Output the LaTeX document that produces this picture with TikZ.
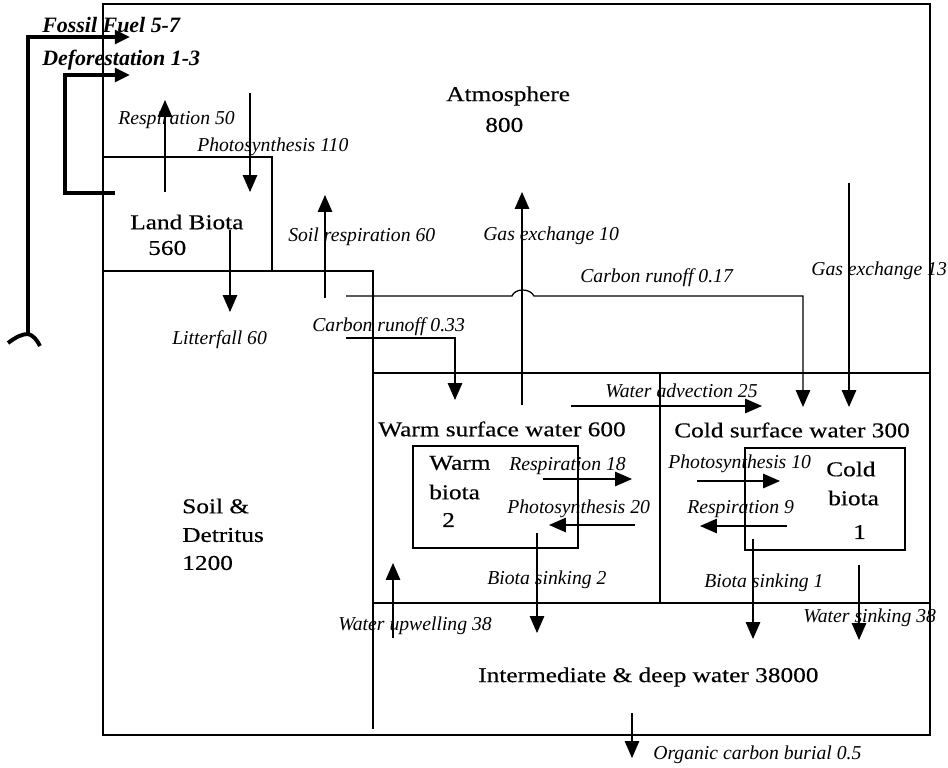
\documentclass[tikz,border=0pt]{standalone}
\usepackage{fontspec}
\setmainfont{Liberation Serif}
\newfontfamily\poolfont[FakeStretch=1.2,FakeBold=0.4]{Liberation Serif}
\usetikzlibrary{arrows.meta}
\tikzset{
  wall/.style={line width=1.1pt},
  flux/.style={-{Triangle[length=4.2mm,width=3.6mm]},line width=0.9pt},
  source/.style={-{Triangle[length=3.8mm,width=3.4mm]},line width=2.8pt},
  pool/.style={font=\poolfont\fontsize{15}{17}\selectfont,inner sep=0pt,anchor=west},
  flxlbl/.style={font=\itshape\fontsize{14}{16}\selectfont,inner sep=0pt,anchor=west},
  srclbl/.style={font=\bfseries\itshape\fontsize{15.6}{17}\selectfont,inner sep=0pt,anchor=west},
}

\begin{document}
\begin{tikzpicture}[x=0.025cm,y=-0.025cm]
  \useasboundingbox (0,0) rectangle (948,768);
  % compartments
  \draw[wall] (103,4) rectangle (930,735);
  \draw[wall] (103,157) -| (272,271);
  \draw[wall] (103,271) -- (373,271) -- (373,729);
  \draw[wall] (373,373) -- (930,373);
  \draw[wall] (373,603) -- (930,603);
  \draw[wall] (660,373) -- (660,603);
  \draw[wall] (413,446) rectangle (578,548);
  \draw[wall] (745,448) rectangle (905,550);
  % pool names
  \node[pool] (atm) at (446,96) {Atmosphere};
  \node[pool] (atmval) at (485,125) {800};
  \node[pool] (land) at (130,222) {Land Biota};
  \node[pool] (landval) at (148,248) {560};
  \node[pool] (soil) at (182,506) {Soil \&};
  \node[pool] (detr) at (182,535) {Detritus};
  \node[pool] (soilval) at (182,563) {1200};
  \node[pool] (warm) at (378,429) {Warm surface water 600};
  \node[pool] (cold) at (674,430) {Cold surface water 300};
  \node[pool] (wbio) at (429,463) {Warm};
  \node[pool] (wbio2) at (429,492) {biota};
  \node[pool] (wbioval) at (442,520) {2};
  \node[pool] (cbio) at (826,469) {Cold};
  \node[pool] (cbio2) at (828,498) {biota};
  \node[pool] (cbioval) at (853,532) {1};
  \node[pool] (deep) at (478,677) {Intermediate \& deep water 38000};
  % human sources
  \draw[source] (28,334) -- (28,37) -- (130,37);
  \draw[source] (115,193) -- (65,193) -- (65,75) -- (130,75);
  \draw[line width=2.8pt] (8,343) .. controls (16,337) and (22,334) .. (28,334)
    .. controls (33,335) and (37,340) .. (40,346);
  \node[srclbl] (fossil) at (42,25) {Fossil Fuel 5-7};
  \node[srclbl] (defor) at (42,60) {Deforestation 1-3};
  % land fluxes
  \draw[flux] (165,192) -- (165,100);
  \draw[flux] (250,93) -- (250,192);
  \draw[flux] (230,230) -- (230,312);
  \draw[flux] (325,298) -- (325,195);
  \node[flxlbl] (resp50) at (118,120) {Respiration 50};
  \node[flxlbl] (phot110) at (197,147) {Photosynthesis 110};
  \node[flxlbl] (litter) at (172,340) {Litterfall 60};
  \node[flxlbl] (soilresp) at (288,237) {Soil respiration 60};
  % runoff and gas exchange
  \draw[flux] (522,405) -- (522,192);
  \draw[flux] (346,296) -- (512,296) .. controls (515,288) and (530,288) .. (534,296)
    -- (803,296) -- (803,407);
  \draw[flux] (346,338) -- (455,338) -- (455,400);
  \draw[flux] (849,183) -- (849,407);
  \node[flxlbl] (gas10) at (483,236) {Gas exchange 10};
  \node[flxlbl] (run17) at (580,278) {Carbon runoff 0.17};
  \node[flxlbl] (gas13) at (811,271) {Gas exchange 13};
  \node[flxlbl] (run33) at (312,327) {Carbon runoff 0.33};
  % ocean fluxes
  \draw[flux] (571,406) -- (762,406);
  \draw[flux] (543,479) -- (632,479);
  \draw[flux] (635,525) -- (549,525);
  \draw[flux] (697,481) -- (780,481);
  \draw[flux] (787,526) -- (700,526);
  \draw[flux] (537,533) -- (537,633);
  \draw[flux] (753,539) -- (753,639);
  \draw[flux] (859,565) -- (859,640);
  \draw[flux] (393,638) -- (393,563);
  \draw[flux] (632,713) -- (632,758);
  \node[flxlbl] (advec) at (605,391) {Water advection 25};
  \node[flxlbl] (resp18) at (509,466) {Respiration 18};
  \node[flxlbl] (phot20) at (507,509) {Photosynthesis 20};
  \node[flxlbl] (phot10) at (668,464) {Photosynthesis 10};
  \node[flxlbl] (resp9) at (687,509) {Respiration 9};
  \node[flxlbl] (sink2) at (487,580) {Biota sinking 2};
  \node[flxlbl] (sink1) at (704,583) {Biota sinking 1};
  \node[flxlbl] (wsink) at (803,618) {Water sinking 38};
  \node[flxlbl] (upwell) at (338,626) {Water upwelling 38};
  \node[flxlbl] (burial) at (653,755) {Organic carbon burial 0.5};
\end{tikzpicture}
\end{document}
